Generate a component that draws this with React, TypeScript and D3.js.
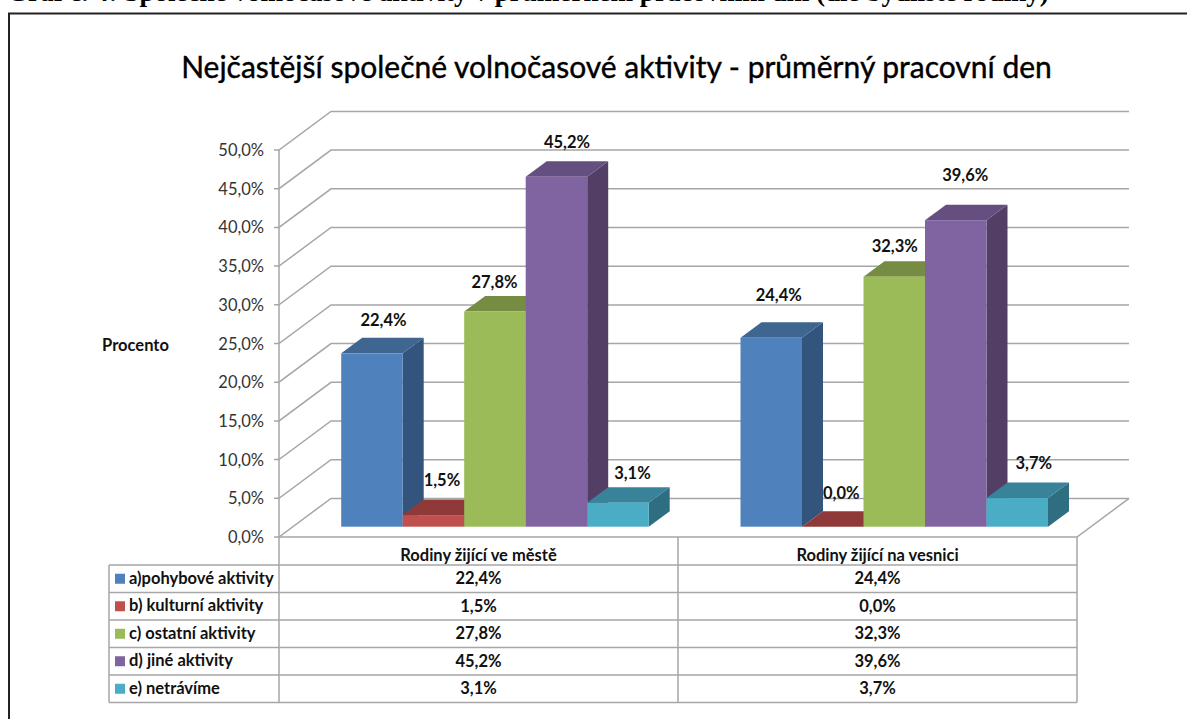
import React from "react";
import * as d3 from "d3";

const categories = ["Rodiny žijící ve městě", "Rodiny žijící na vesnici"];
const seriesNames = ["a)pohybové aktivity", "b) kulturní aktivity", "c) ostatní aktivity", "d) jiné aktivity", "e) netrávíme"];
const cityValues = [22.4, 1.5, 27.8, 45.2, 3.1];
const villageValues = [24.4, 0.0, 32.3, 39.6, 3.7];
const yTicks = [0, 5, 10, 15, 20, 25, 30, 35, 40, 45, 50];
const frontColors = ["#4f81bd", "#c0504d", "#9bbb59", "#8064a2", "#4bacc6"];
const topColors = ["#3f6690", "#8f3a38", "#768c43", "#654e80", "#38829a"];
const sideColors = ["#33547c", "#7a3230", "#657a3a", "#533f65", "#2f6d80"];
const labelOffsets = [[1, -12], [-2, -14], [-11, -8], [0, -13], [4, -8]];
const labelOffsets2 = [[-3, -21], [-2, -12], [-10, -9], [-1, -24], [6, -14]];

const FONT = "Lato, 'Noto Sans', sans-serif";
const fmt = (v: number) => v.toFixed(1).replace(".", ",") + "%";

const y = d3.scaleLinear().domain([0, 50]).range([537, 150]);
const x = d3.scaleBand<string>().domain(categories).range([279, 1077]);
const DX = 52;
const DY = -38.6;
const BARW = 61.5;
const BDX = 21;
const BDY = -15.5;
const BASE_SHIFT = -10.3;
const groupStart = [341.2, 740.5];
const rowY = d3.scaleBand<string>().domain(seriesNames).range([565, 702.5]);

const poly = (pts: number[][]) => pts.map((p) => p.join(",")).join(" ");

function Bar({ x0, v, i }: { x0: number; v: number; i: number }) {
  const bottom = y(0) + BASE_SHIFT;
  const top = y(v) + BASE_SHIFT;
  const x1 = x0 + BARW;
  return (
    <g>
      <polygon points={poly([[x1, top], [x1 + BDX, top + BDY], [x1 + BDX, bottom + BDY], [x1, bottom]])} fill={sideColors[i]} />
      <polygon points={poly([[x0, top], [x0 + BDX, top + BDY], [x1 + BDX, top + BDY], [x1, top]])} fill={topColors[i]} />
      <rect x={x0} y={top} width={BARW} height={bottom - top} fill={frontColors[i]} />
    </g>
  );
}

export default function App() {
  const grid = "#a6a6a6";
  const series = [cityValues, villageValues];
  const x0 = x.range()[0];
  const x1 = x.range()[1];
  const mid = x(categories[1])!;
  const bold = { fontFamily: FONT, fontWeight: "bold", fontSize: 16.5, fill: "#111" };
  return (
    <svg width={1187} height={719} style={{ position: "absolute", left: 0, top: 0, background: "#fff" }}>
      <text x={7} y={1} fontFamily="'Liberation Serif', serif" fontWeight="bold" fontSize={27.1} fill="#000">
        Graf č. 4: Společné volnočasové aktivity v průměrném pracovním dni (dle bydliště rodiny)
      </text>
      <path d="M9,719V13.5H1187" fill="none" stroke="#222" strokeWidth={2} />
      <text x={616.5} y={78} textAnchor="middle" fontFamily={FONT} fontSize={30} fill="#000" stroke="#000" strokeWidth={0.4}>
        Nejčastější společné volnočasové aktivity - průměrný pracovní den
      </text>
      {yTicks.map((t) => (
        <g key={t}>
          <polyline
            points={poly([[x0 - 5, y(t)], [x0, y(t)], [x0 + DX, y(t) + DY], [x1 + DX, y(t) + DY]])}
            fill="none"
            stroke={grid}
            strokeWidth={1.5}
          />
          <text x={264} y={y(t) + 6} textAnchor="end" fontFamily={FONT} fontSize={16.5} fill="#333">
            {fmt(t)}
          </text>
        </g>
      ))}
      <polyline points={poly([[x0, y(0)], [x1, y(0)], [x1 + DX, y(0) + DY]])} fill="none" stroke={grid} strokeWidth={1.5} />
      <line x1={x0} x2={x0} y1={y(50)} y2={rowY.range()[1]} stroke={grid} strokeWidth={1.5} />
      <text x={135.5} y={351} textAnchor="middle" {...bold}>Procento</text>

      {series.map((vals, g) => (
        <g key={g}>
          {vals.map((v, i) => (
            <Bar key={i} x0={groupStart[g] + i * BARW} v={v} i={i} />
          ))}
          {vals.map((v, i) => {
            const off = g === 0 ? labelOffsets[i] : labelOffsets2[i];
            const cx = groupStart[g] + i * BARW + BARW / 2 + BDX / 2 + off[0];
            const cy = y(v) + BASE_SHIFT + BDY + off[1];
            return (
              <text key={i} x={cx} y={cy} textAnchor="middle" {...bold}>
                {fmt(v)}
              </text>
            );
          })}
        </g>
      ))}

      {/* data table */}
      <line x1={mid} x2={mid} y1={y(0)} y2={rowY.range()[1]} stroke={grid} strokeWidth={1.5} />
      <line x1={x1} x2={x1} y1={y(0)} y2={rowY.range()[1]} stroke={grid} strokeWidth={1.5} />
      <line x1={109} x2={109} y1={565} y2={rowY.range()[1]} stroke={grid} strokeWidth={1.5} />
      {categories.map((c) => (
        <text key={c} x={x(c)! + x.bandwidth() / 2} y={561} textAnchor="middle" {...bold}>
          {c}
        </text>
      ))}
      {seriesNames.map((s, i) => {
        const ry = rowY(s)!;
        const h = rowY.bandwidth();
        return (
          <g key={s}>
            <line x1={109} x2={x1} y1={ry} y2={ry} stroke={grid} strokeWidth={1.5} />
            <rect x={115} y={ry + h / 2 - 5} width={10} height={10} fill={frontColors[i]} />
            <text x={129} y={ry + h / 2 + 5} {...bold}>{s}</text>
            {series.map((vals, g) => (
              <text key={g} x={x(categories[g])! + x.bandwidth() / 2} y={ry + h / 2 + 5.5} textAnchor="middle" {...bold}>
                {fmt(vals[i])}
              </text>
            ))}
          </g>
        );
      })}
      <line x1={109} x2={x1} y1={rowY.range()[1]} y2={rowY.range()[1]} stroke={grid} strokeWidth={1.5} />
    </svg>
  );
}
